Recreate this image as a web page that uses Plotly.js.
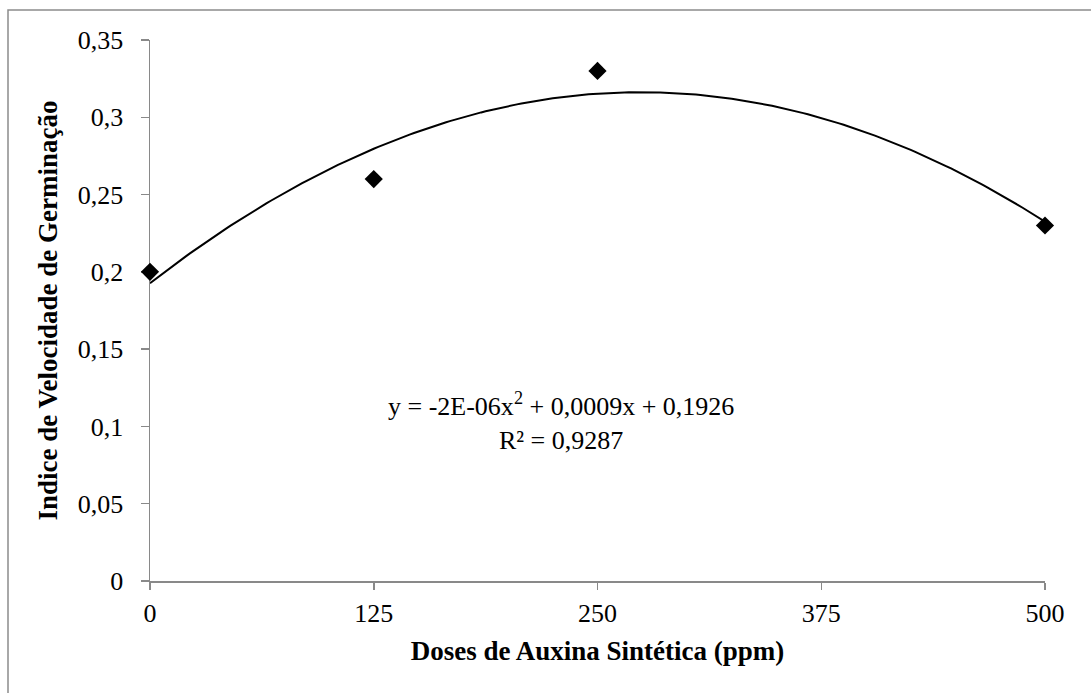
<!DOCTYPE html>
<html>
<head>
<meta charset="utf-8">
<script src="https://cdn.plot.ly/plotly-3.0.1.min.js"></script>
<style>
  html, body { margin: 0; padding: 0; background: #fff; }
  #chart { width: 1091px; height: 693px; }
</style>
</head>
<body>
<div id="chart"></div>
<script>
// Data
const doses = [0, 125, 250, 500];                 // ppm
const ivg = [0.20, 0.26, 0.33, 0.23];             // Índice de Velocidade de Germinação
const xTicks = [0, 125, 250, 375, 500];
const xTickText = ['0', '125', '250', '375', '500'];
const yTicks = [0, 0.05, 0.10, 0.15, 0.20, 0.25, 0.30, 0.35];
const yTickText = ['0', '0,05', '0,1', '0,15', '0,2', '0,25', '0,3', '0,35'];
const equationText = 'y = -2E-06x<sup>2</sup> + 0,0009x + 0,1926<br>R² = 0,9287';

// Polynomial (order 2) trendline: least-squares fit of the data above
function quadFit(xs, ys) {
  let s = [0, 0, 0, 0, 0], t = [0, 0, 0];
  for (let i = 0; i < xs.length; i++) {
    let p = 1;
    for (let k = 0; k < 5; k++) { s[k] += p; if (k < 3) t[k] += p * ys[i]; p *= xs[i]; }
  }
  const M = [[s[0], s[1], s[2], t[0]], [s[1], s[2], s[3], t[1]], [s[2], s[3], s[4], t[2]]];
  for (let c = 0; c < 3; c++) {
    for (let r = c + 1; r < 3; r++) {
      const f = M[r][c] / M[c][c];
      for (let k = c; k < 4; k++) M[r][k] -= f * M[c][k];
    }
  }
  const sol = [0, 0, 0];
  for (let r = 2; r >= 0; r--) {
    let v = M[r][3];
    for (let k = r + 1; k < 3; k++) v -= M[r][k] * sol[k];
    sol[r] = v / M[r][r];
  }
  return sol; // a, b, c
}
const coef = quadFit(doses, ivg);
const trendX = [], trendY = [];
const xMin = Math.min(...doses), xMax = Math.max(...doses);
for (let i = 0; i <= 200; i++) {
  const x = xMin + (xMax - xMin) * i / 200;
  trendX.push(x);
  trendY.push(coef[0] + coef[1] * x + coef[2] * x * x);
}

const FONT = "'Liberation Serif', 'Times New Roman', serif";
const AXIS_COLOR = '#898989';

const traces = [
  {
    x: trendX, y: trendY, type: 'scatter', mode: 'lines', cliponaxis: false,
    line: { color: '#000', width: 2 }, hoverinfo: 'skip', showlegend: false
  },
  {
    x: doses, y: ivg, type: 'scatter', mode: 'markers', cliponaxis: false,
    marker: { symbol: 'diamond', size: 14, color: '#000' }, showlegend: false
  }
];

const layout = {
  width: 1091, height: 693,
  margin: { l: 150, r: 46, t: 40, b: 112 },
  paper_bgcolor: '#fff', plot_bgcolor: '#fff',
  font: { family: FONT, color: '#000', size: 26 },
  separators: ', ',
  showlegend: false,
  xaxis: {
    range: [0, 500], tickmode: 'array', tickvals: xTicks, ticktext: xTickText,
    showgrid: false, zeroline: false, showline: true, linecolor: AXIS_COLOR, linewidth: 1.5,
    ticks: 'outside', ticklen: 7, tickwidth: 1.5, tickcolor: AXIS_COLOR,
    tickfont: { family: FONT, size: 26, color: '#000' },
    ticklabelstandoff: 1, layer: 'below traces',
    title: { text: 'Doses de Auxina Sintética (ppm)', font: { family: FONT, size: 27, color: '#000', weight: 'bold' }, standoff: 14 },
    automargin: false, fixedrange: true
  },
  yaxis: {
    range: [0, 0.35], tickmode: 'array', tickvals: yTicks, ticktext: yTickText,
    showgrid: false, zeroline: false, showline: true, linecolor: AXIS_COLOR, linewidth: 1.5,
    ticks: 'outside', ticklen: 8, tickwidth: 1.5, tickcolor: AXIS_COLOR,
    tickfont: { family: FONT, size: 26, color: '#000' },
    ticklabelstandoff: 12, layer: 'below traces',
    title: { text: 'Indice de Velocidade de Germinação', font: { family: FONT, size: 27, color: '#000', weight: 'bold' }, standoff: 12 },
    automargin: false, fixedrange: true
  },
  annotations: [
    {
      xref: 'x', yref: 'y', x: 229.6, y: 0.1030, text: equationText,
      showarrow: false, align: 'center', xanchor: 'center', yanchor: 'middle',
      font: { family: FONT, size: 26, color: '#000' }
    }
  ],
  shapes: [
    {
      type: 'rect', xref: 'paper', yref: 'paper',
      x0: (8 - 150) / 895, x1: (1100 - 150) / 895,
      y0: (581 - 700) / 541, y1: (581 - 10) / 541,
      line: { color: '#8c8c8c', width: 1.5 }, fillcolor: 'rgba(0,0,0,0)', layer: 'below'
    }
  ]
};

Plotly.newPlot('chart', traces, layout, { staticPlot: true, displayModeBar: false });
</script>
</body>
</html>
